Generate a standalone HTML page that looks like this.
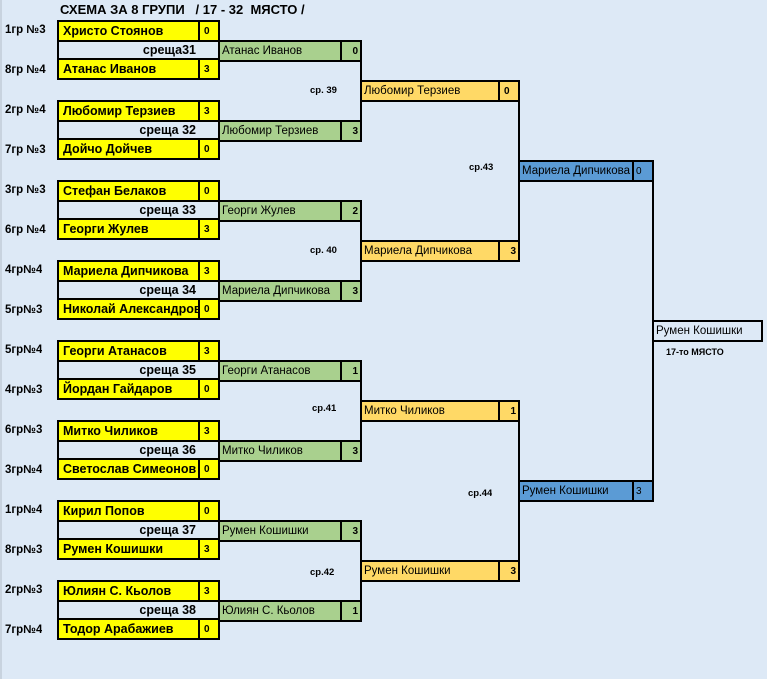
<!DOCTYPE html>
<html><head><meta charset="utf-8"><style>
body{margin:0;width:767px;height:679px;background:#dde9f6;position:relative;overflow:hidden;font-family:"Liberation Sans","DejaVu Sans",sans-serif;}
div{position:absolute;box-sizing:border-box;white-space:nowrap;overflow:hidden}
.y{background:#ffff00;border:2px solid #000;font-weight:bold;font-size:12.5px;line-height:18px;padding-left:4px}
.ys{background:#ffff00;border:2px solid #000;font-weight:bold;font-size:10px;line-height:19px;padding-left:4px}
.g{background:#a9d08e;border:2px solid #000;font-size:11.5px;line-height:18px;padding-left:2px}
.gs{background:#a9d08e;border:2px solid #000;font-weight:bold;font-size:10px;line-height:19px;text-align:right;padding-right:2px}
.o{background:#ffd966;border:2px solid #000;font-size:11.5px;line-height:18px;padding-left:2px}
.os{background:#ffd966;border:2px solid #000;font-weight:bold;font-size:10px;line-height:19px;padding-left:4px}
.b{background:#5b9bd5;border:2px solid #000;font-size:11.5px;line-height:18px;padding-left:2px}
.mid{border-left:2px solid #000;font-weight:bold;font-size:12.5px;line-height:20px;text-align:right;padding-right:22px}
.lbl{font-weight:bold;font-size:11.5px;line-height:20px;left:5px}
.sm{font-weight:bold;font-size:9.5px}
.v{background:#000;width:2px}
</style></head><body>
<div style="left:0;top:0;width:2px;height:679px;background:#c8d3df"></div>
<div style="left:60px;top:2px;font-weight:bold;font-size:13px">СХЕМА ЗА 8 ГРУПИ &nbsp;&nbsp;/ 17 - 32 &nbsp;МЯСТО /</div>

<div class="lbl" style="top:20px">1гр №3</div><div class="lbl" style="top:60px">8гр №4</div>
<div class="lbl" style="top:100px">2гр №4</div><div class="lbl" style="top:140px">7гр №3</div>
<div class="lbl" style="top:180px">3гр №3</div><div class="lbl" style="top:220px">6гр №4</div>
<div class="lbl" style="top:260px">4гр№4</div><div class="lbl" style="top:300px">5гр№3</div>
<div class="lbl" style="top:340px">5гр№4</div><div class="lbl" style="top:380px">4гр№3</div>
<div class="lbl" style="top:420px">6гр№3</div><div class="lbl" style="top:460px">3гр№4</div>
<div class="lbl" style="top:500px">1гр№4</div><div class="lbl" style="top:540px">8гр№3</div>
<div class="lbl" style="top:580px">2гр№3</div><div class="lbl" style="top:620px">7гр№4</div>

<div class="mid" style="left:57px;top:40px;width:161px;height:20px">среща31</div>
<div class="y" style="left:57px;top:20px;width:143px;height:22px">Христо Стоянов</div><div class="ys" style="left:198px;top:20px;width:22px;height:22px">0</div>
<div class="y" style="left:57px;top:58px;width:143px;height:22px">Атанас Иванов</div><div class="ys" style="left:198px;top:58px;width:22px;height:22px">3</div>

<div class="mid" style="left:57px;top:120px;width:161px;height:20px">среща 32</div>
<div class="y" style="left:57px;top:100px;width:143px;height:22px">Любомир Терзиев</div><div class="ys" style="left:198px;top:100px;width:22px;height:22px">3</div>
<div class="y" style="left:57px;top:138px;width:143px;height:22px">Дойчо Дойчев</div><div class="ys" style="left:198px;top:138px;width:22px;height:22px">0</div>

<div class="mid" style="left:57px;top:200px;width:161px;height:20px">среща 33</div>
<div class="y" style="left:57px;top:180px;width:143px;height:22px">Стефан Белаков</div><div class="ys" style="left:198px;top:180px;width:22px;height:22px">0</div>
<div class="y" style="left:57px;top:218px;width:143px;height:22px">Георги Жулев</div><div class="ys" style="left:198px;top:218px;width:22px;height:22px">3</div>

<div class="mid" style="left:57px;top:280px;width:161px;height:20px">среща 34</div>
<div class="y" style="left:57px;top:260px;width:143px;height:22px">Мариела Дипчикова</div><div class="ys" style="left:198px;top:260px;width:22px;height:22px">3</div>
<div class="y" style="left:57px;top:298px;width:143px;height:22px">Николай Александров</div><div class="ys" style="left:198px;top:298px;width:22px;height:22px">0</div>

<div class="mid" style="left:57px;top:360px;width:161px;height:20px">среща 35</div>
<div class="y" style="left:57px;top:340px;width:143px;height:22px">Георги Атанасов</div><div class="ys" style="left:198px;top:340px;width:22px;height:22px">3</div>
<div class="y" style="left:57px;top:378px;width:143px;height:22px">Йордан Гайдаров</div><div class="ys" style="left:198px;top:378px;width:22px;height:22px">0</div>

<div class="mid" style="left:57px;top:440px;width:161px;height:20px">среща 36</div>
<div class="y" style="left:57px;top:420px;width:143px;height:22px">Митко Чиликов</div><div class="ys" style="left:198px;top:420px;width:22px;height:22px">3</div>
<div class="y" style="left:57px;top:458px;width:143px;height:22px">Светослав Симеонов</div><div class="ys" style="left:198px;top:458px;width:22px;height:22px">0</div>

<div class="mid" style="left:57px;top:520px;width:161px;height:20px">среща 37</div>
<div class="y" style="left:57px;top:500px;width:143px;height:22px">Кирил Попов</div><div class="ys" style="left:198px;top:500px;width:22px;height:22px">0</div>
<div class="y" style="left:57px;top:538px;width:143px;height:22px">Румен Кошишки</div><div class="ys" style="left:198px;top:538px;width:22px;height:22px">3</div>

<div class="mid" style="left:57px;top:600px;width:161px;height:20px">среща 38</div>
<div class="y" style="left:57px;top:580px;width:143px;height:22px">Юлиян С. Кьолов</div><div class="ys" style="left:198px;top:580px;width:22px;height:22px">3</div>
<div class="y" style="left:57px;top:618px;width:143px;height:22px">Тодор Арабажиев</div><div class="ys" style="left:198px;top:618px;width:22px;height:22px">0</div>

<div class="g" style="left:218px;top:40px;width:124px;height:22px">Атанас Иванов</div><div class="gs" style="left:340px;top:40px;width:22px;height:22px">0</div>
<div class="g" style="left:218px;top:120px;width:124px;height:22px">Любомир Терзиев</div><div class="gs" style="left:340px;top:120px;width:22px;height:22px">3</div>
<div class="g" style="left:218px;top:200px;width:124px;height:22px">Георги Жулев</div><div class="gs" style="left:340px;top:200px;width:22px;height:22px">2</div>
<div class="g" style="left:218px;top:280px;width:124px;height:22px">Мариела Дипчикова</div><div class="gs" style="left:340px;top:280px;width:22px;height:22px">3</div>
<div class="g" style="left:218px;top:360px;width:124px;height:22px">Георги Атанасов</div><div class="gs" style="left:340px;top:360px;width:22px;height:22px">1</div>
<div class="g" style="left:218px;top:440px;width:124px;height:22px">Митко Чиликов</div><div class="gs" style="left:340px;top:440px;width:22px;height:22px">3</div>
<div class="g" style="left:218px;top:520px;width:124px;height:22px">Румен Кошишки</div><div class="gs" style="left:340px;top:520px;width:22px;height:22px">3</div>
<div class="g" style="left:218px;top:600px;width:124px;height:22px">Юлиян С. Кьолов</div><div class="gs" style="left:340px;top:600px;width:22px;height:22px">1</div>
<div class="v" style="left:360px;top:60px;height:62px"></div>
<div class="v" style="left:360px;top:220px;height:62px"></div>
<div class="v" style="left:360px;top:380px;height:62px"></div>
<div class="v" style="left:360px;top:540px;height:62px"></div>
<div class="sm" style="left:310px;top:85px">ср. 39</div>
<div class="sm" style="left:310px;top:245px">ср. 40</div>
<div class="sm" style="left:312px;top:403px">ср.41</div>
<div class="sm" style="left:310px;top:567px">ср.42</div>

<div class="o" style="left:360px;top:80px;width:140px;height:22px">Любомир Терзиев</div><div class="os" style="left:498px;top:80px;width:22px;height:22px">0</div>
<div class="o" style="left:360px;top:240px;width:140px;height:22px">Мариела Дипчикова</div><div class="os" style="left:498px;top:240px;width:22px;height:22px;text-align:right;padding-right:2px">3</div>
<div class="o" style="left:360px;top:400px;width:140px;height:22px">Митко Чиликов</div><div class="os" style="left:498px;top:400px;width:22px;height:22px;text-align:right;padding-right:2px">1</div>
<div class="o" style="left:360px;top:560px;width:140px;height:22px">Румен Кошишки</div><div class="os" style="left:498px;top:560px;width:22px;height:22px;text-align:right;padding-right:2px">3</div>
<div class="v" style="left:518px;top:100px;height:142px"></div>
<div class="v" style="left:518px;top:420px;height:142px"></div>
<div class="sm" style="left:469px;top:162px">ср.43</div>
<div class="sm" style="left:468px;top:488px">ср.44</div>

<div class="b" style="left:518px;top:160px;width:116px;height:22px">Мариела Дипчикова</div><div class="b" style="left:632px;top:160px;width:22px;height:22px;font-size:10px;line-height:19px">0</div>
<div class="b" style="left:518px;top:480px;width:116px;height:22px">Румен Кошишки</div><div class="b" style="left:632px;top:480px;width:22px;height:22px;font-size:10px;line-height:19px">3</div>
<div class="v" style="left:652px;top:180px;height:302px"></div>

<div style="left:652px;top:320px;width:111px;height:22px;border:2px solid #000;font-size:11.5px;line-height:18px;padding-left:2px">Румен Кошишки</div>
<div class="sm" style="left:666px;top:347px;font-size:9px">17-то МЯСТО</div>
</body></html>
